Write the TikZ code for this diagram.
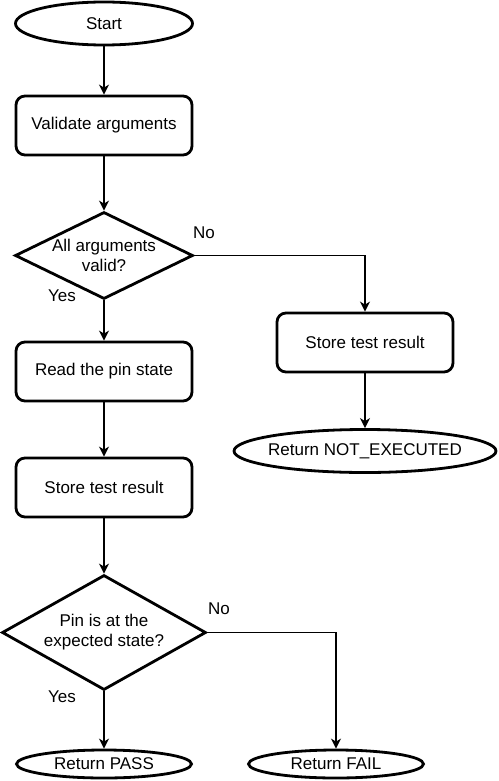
\documentclass[tikz,border=0pt]{standalone}
\usepackage{fontspec}
\setmainfont{Liberation Sans}
\usetikzlibrary{shapes.geometric,arrows.meta}
\tikzstyle{term} = [ellipse, minimum width=177pt, minimum height=43pt, inner sep=0pt, text centered, draw=black, line width=2.8pt]
\tikzstyle{proc} = [rectangle, rounded corners=9pt, minimum width=176pt, minimum height=59pt, text centered, draw=black, line width=2.8pt]
\tikzstyle{dec} = [diamond, aspect=2.05, minimum width=178pt, minimum height=87pt, inner sep=0pt, align=center, draw=black, line width=2.8pt]
\tikzstyle{lbl} = [inner sep=0pt]
\tikzstyle{arr} = [-{Stealth[length=10pt,width=10pt,inset=3pt]}, line width=1.5pt]

\begin{document}
\begin{tikzpicture}[x=1pt,y=-1pt,node distance=116pt,font=\fontsize{17}{20}\selectfont]
			\useasboundingbox (0,0) rectangle (498,781);
			\node[term] (start) at (104,23.5) {Start};
			\node[proc,below of=start,yshift=14pt] (valid) {Validate arguments};
			\node[dec,below of=valid,yshift=-14pt] (allok) {All arguments\\valid?};
			\node[proc,below of=allok] (read) {Read the pin state};
			\node[proc,below of=read] (storeL) {Store test result};
			\node[dec,below of=storeL,yshift=-29pt,aspect=1.77,minimum width=204pt,minimum height=115pt] (pinok) {Pin is at the\\expected state?};
			\node[term,below of=pinok,yshift=-15.5pt,minimum width=175pt,minimum height=28pt] (pass) {Return PASS};
			\node[term,right of=pass,xshift=116pt,minimum width=175pt,minimum height=28pt] (fail) {Return FAIL};
			\node[proc,right of=read,xshift=145pt,yshift=29pt] (storeR) {Store test result};
			\node[term,below of=storeR,yshift=7.5pt,minimum width=262pt,inner xsep=-5pt] (notrun) {Return NOT\_EXECUTED};
			\node[lbl] (no1) at (204,233) {No};
			\node[lbl] (yes1) at (62,296) {Yes};
			\node[lbl] (no2) at (219,609) {No};
			\node[lbl] (yes2) at (62,697) {Yes};
			\draw[arr] (start)--(valid);
			\draw[arr] (valid)--(allok);
			\draw[arr] (allok)--(read);
			\draw[arr] (read)--(storeL);
			\draw[arr] (storeL)--(pinok);
			\draw[arr] (pinok)--(pass);
			\draw[arr] (allok.east)-|(storeR.north);
			\draw[arr] (storeR)--(notrun);
			\draw[arr] (pinok.east)-|(fail.north);
		\end{tikzpicture}
\end{document}
